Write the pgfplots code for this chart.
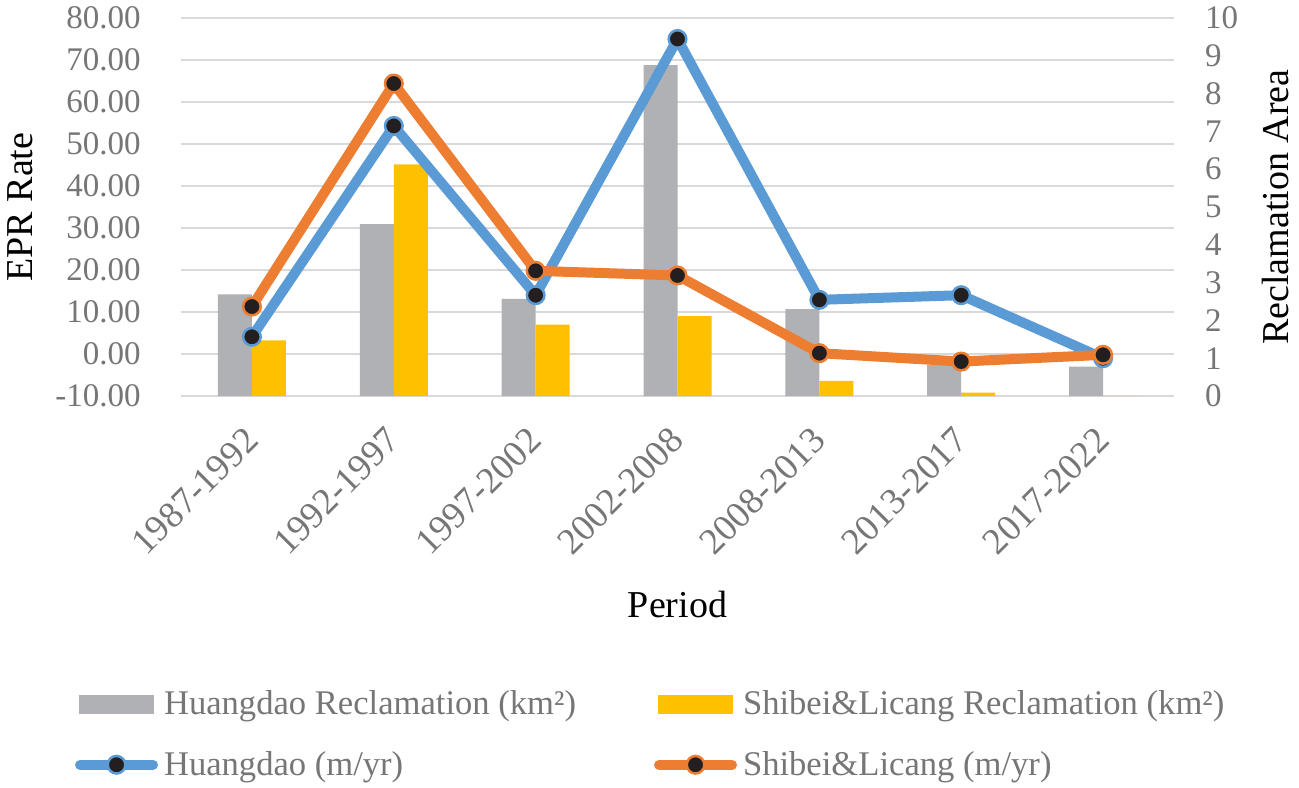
\documentclass[border=0pt]{standalone}
\usepackage{pgfplots}
\pgfplotsset{compat=1.18}
\usepackage{fontspec}
\setmainfont{Liberation Serif}
\definecolor{barGray}{RGB}{176,177,180}
\definecolor{barYellow}{RGB}{255,192,0}
\definecolor{lineBlue}{RGB}{91,155,213}
\definecolor{lineOrange}{RGB}{237,125,49}
\definecolor{markBlack}{RGB}{35,31,32}
\definecolor{gridGray}{RGB}{217,217,217}
\definecolor{tickGray}{RGB}{118,118,118}
\pgfplotsset{
  base/.style={width=496.5pt, height=189pt, scale only axis,
    xmin=-0.5, xmax=6.5, at={(0pt,0pt)}, anchor=south west},
  lineleg/.style={legend image code/.code={\draw[##1, mark repeat=2, mark phase=2] plot coordinates {(2.5pt,0pt) (20.75pt,0pt) (39pt,0pt)};}},
}
\begin{document}
\begin{tikzpicture}
% grid, left axis, x labels
\begin{axis}[base,
  ymin=-10, ymax=80, ytick={-10,0,...,80},
  ymajorgrids, major grid style={draw=gridGray, line width=1.4pt},
  axis line style={draw=none}, major tick length=0pt,
  xtick={0,...,6},
  xticklabels={1987-1992,1992-1997,1997-2002,2002-2008,2008-2013,2013-2017,2017-2022},
  /pgf/number format/assume math mode=true,
  yticklabel style={/pgf/number format/fixed, /pgf/number format/fixed zerofill,
    /pgf/number format/precision=2,
    font=\fontsize{16.5}{18}\selectfont, text=tickGray, inner sep=0pt, anchor=east, xshift=-20pt},
  xticklabel style={font=\fontsize{18.5}{20}\selectfont, text=tickGray, inner sep=0pt,
    yshift=-19pt, rotate=45, anchor=east},
  ylabel={EPR Rate},
  every axis y label/.style={at={(axis description cs:-0.1616,0.5)}, rotate=90, anchor=center,
    font=\fontsize{19}{22}\selectfont},
  xlabel={Period},
  every axis x label/.style={at={(axis description cs:0.5,0)}, anchor=base, yshift=-110.5pt,
    font=\fontsize{19}{22}\selectfont},
]
\addplot[draw=none, forget plot] coordinates {(0,0)};
\end{axis}
% bars, right axis
\begin{axis}[base,
  ymin=0, ymax=10, ytick={0,1,...,10},
  hide x axis, axis y line*=right, axis line style={draw=none}, major tick length=0pt,
  /pgf/number format/assume math mode=true,
  yticklabel style={font=\fontsize{16.5}{18}\selectfont, text=tickGray, inner sep=0pt, anchor=west, xshift=15.3pt},
  ylabel={Reclamation Area},
  every axis y label/.style={at={(axis description cs:1.1023,0.5)}, rotate=90, anchor=center,
    font=\fontsize{19}{22}\selectfont},
]
\addplot[ybar, bar width=17pt, bar shift=-8.5pt, fill=barGray, draw=none]
  coordinates {(0,2.69) (1,4.55) (2,2.57) (3,8.75) (4,2.30) (5,0.82) (6,0.78)};
\addplot[ybar, bar width=17pt, bar shift=8.5pt, fill=barYellow, draw=none]
  coordinates {(0,1.47) (1,6.13) (2,1.89) (3,2.11) (4,0.40) (5,0.09) (6,0)};
\end{axis}
% lines, left axis scale
\begin{axis}[base,
  ymin=-10, ymax=80, hide axis, clip=false,
  legend columns=2,
  legend cell align=left,
  legend style={at={(axis description cs:-0.1067,-0.78)}, anchor=north west,
    draw=none, fill=none, inner sep=0pt, outer sep=0pt,
    font=\fontsize{17.3}{20}\selectfont, text=tickGray,
    nodes={inner sep=0pt},
    /tikz/every even column/.append style={column sep=39pt},
    /tikz/every odd column/.append style={column sep=3pt},
    row sep=16.7pt},
]
\addlegendimage{legend image code/.code={\fill[barGray] (2pt,-4.4pt) rectangle (39.25pt,4.4pt);}}
\addlegendentry{Huangdao Reclamation (km²)}
\addlegendimage{legend image code/.code={\fill[barYellow] (2pt,-4.4pt) rectangle (39.25pt,4.4pt);}}
\addlegendentry{Shibei\&Licang Reclamation (km²)}
\addplot[lineBlue, line width=5pt, line join=round, line cap=round,
  mark=*, mark size=4.4pt, mark options={fill=markBlack, draw=lineBlue, line width=1.25pt},
  lineleg]
  coordinates {(0,4.1) (1,54.3) (2,14.0) (3,75.0) (4,12.9) (5,14.0) (6,-1.0)};
\addlegendentry{Huangdao (m/yr)}
\addplot[lineOrange, line width=5pt, line join=round, line cap=round,
  mark=*, mark size=4.4pt, mark options={fill=markBlack, draw=lineOrange, line width=1.25pt},
  lineleg]
  coordinates {(0,11.3) (1,64.4) (2,19.8) (3,18.7) (4,0.2) (5,-1.8) (6,-0.2)};
\addlegendentry{Shibei\&Licang (m/yr)}
\end{axis}
\pgfresetboundingbox
\path[use as bounding box] (-90.5pt,-195.5pt) rectangle (559pt,198pt);
\end{tikzpicture}
\end{document}
